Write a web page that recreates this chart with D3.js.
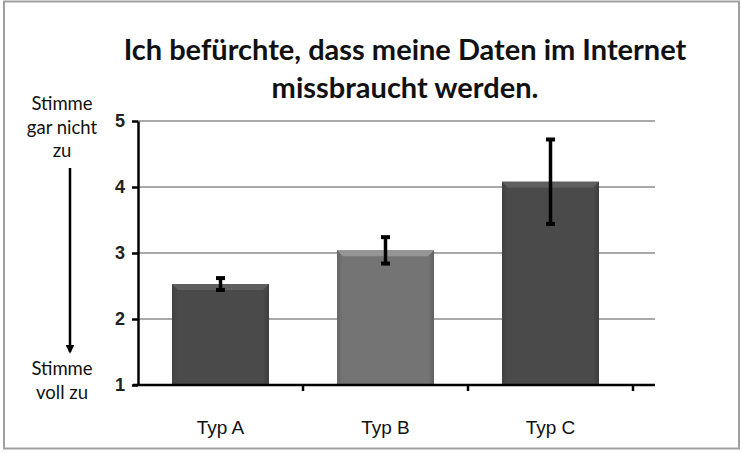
<!DOCTYPE html>
<html>
<head>
<meta charset="utf-8">
<script src="https://cdn.jsdelivr.net/npm/d3@7"></script>
<style>
  body { margin: 0; background: #fff; }
  svg { display: block; font-family: Lato, "Open Sans", sans-serif; }
</style>
</head>
<body>
<svg id="chart" width="743" height="453"></svg>
<script>
const categories = ["Typ A", "Typ B", "Typ C"];
const means = [2.53, 3.04, 4.08];
const errors = [0.09, 0.2, 0.64];
const barColors = ["#4a4a4a", "#747474", "#4a4a4a"];
const yTicks = [1, 2, 3, 4, 5];
const titleLines = ["Ich befürchte, dass meine Daten im Internet", "missbraucht werden."];
const topNote = ["Stimme", "gar nicht", "zu"];
const bottomNote = ["Stimme", "voll zu"];

const svg = d3.select("#chart");

// outer frame
svg.append("rect")
  .attr("x", 4).attr("y", 1.5)
  .attr("width", 735).attr("height", 447)
  .attr("fill", "none")
  .attr("stroke", "#a0a0a0")
  .attr("stroke-width", 2);

const plotLeft = 138, plotTop = 121, plotH = 264, catW = 165, axisEnd = 655;

const x = d3.scaleBand().domain(categories).range([plotLeft, plotLeft + catW * 3]).paddingInner(0).paddingOuter(0);
const y = d3.scaleLinear().domain([1, 5]).range([plotTop + plotH, plotTop]);

// gradients for bevelled bars
const defs = svg.append("defs");
barColors.forEach((c, i) => {
  const g = defs.append("linearGradient").attr("id", "bar" + i);
  const base = d3.color(c);
  g.append("stop").attr("offset", "0%").attr("stop-color", base.darker(0.35));
  g.append("stop").attr("offset", "6%").attr("stop-color", base);
  g.append("stop").attr("offset", "94%").attr("stop-color", base);
  g.append("stop").attr("offset", "100%").attr("stop-color", base.darker(0.5));
});

// gridlines
svg.append("g")
  .selectAll("line")
  .data(yTicks.slice(1))
  .join("line")
  .attr("x1", plotLeft).attr("x2", axisEnd)
  .attr("y1", d => y(d)).attr("y2", d => y(d))
  .attr("stroke", "#8c8c8c")
  .attr("stroke-width", 1.5);

// bars
const barW = 97;
const bars = svg.append("g")
  .selectAll("g")
  .data(categories)
  .join("g");

bars.append("rect")
  .attr("x", d => x(d) + (catW - barW) / 2)
  .attr("y", (d, i) => y(means[i]))
  .attr("width", barW)
  .attr("height", (d, i) => y(1) - y(means[i]))
  .attr("fill", (d, i) => `url(#bar${i})`);

// top bevel
bars.append("path")
  .attr("d", (d, i) => {
    const x0 = x(d) + (catW - barW) / 2, x1 = x0 + barW, y0 = y(means[i]), b = 6;
    return `M${x0},${y0}L${x1},${y0}L${x1 - b},${y0 + b}L${x0 + b},${y0 + b}Z`;
  })
  .attr("fill", (d, i) => d3.color(barColors[i]).brighter(0.7));

// error bars
const eb = svg.append("g");
categories.forEach((c, i) => {
  const cx = x(c) + catW / 2;
  const hi = y(means[i] + errors[i]), lo = y(means[i] - errors[i]);
  eb.append("line")
    .attr("x1", cx).attr("x2", cx).attr("y1", hi).attr("y2", lo)
    .attr("stroke", "#000").attr("stroke-width", 3.5);
  [hi, lo].forEach(v => {
    eb.append("line")
      .attr("x1", cx - 4.5).attr("x2", cx + 4.5).attr("y1", v).attr("y2", v)
      .attr("stroke", "#000").attr("stroke-width", 4);
  });
});

// y axis
const yAxis = svg.append("g")
  .attr("transform", `translate(${plotLeft},0)`)
  .call(d3.axisLeft(y).tickValues(yTicks).tickFormat(d3.format("d")).tickSize(6).tickSizeOuter(0));
yAxis.select(".domain").attr("stroke-width", 2.5);
yAxis.selectAll(".tick line").attr("stroke-width", 2.5);
yAxis.selectAll(".tick text")
  .attr("x", -13)
  .style("font-size", "18px")
  .style("font-weight", "bold")
  .attr("fill", "#222");

// x axis
const xAxis = svg.append("g")
  .attr("transform", `translate(0,${y(1)})`)
  .call(d3.axisBottom(x).tickSize(0).tickSizeOuter(0));
xAxis.select(".domain").remove();
xAxis.append("line")
  .attr("x1", plotLeft - 5).attr("x2", axisEnd)
  .attr("stroke", "#000").attr("stroke-width", 2.5);
xAxis.selectAll(".tick text")
  .attr("y", 36)
  .style("font-size", "19px")
  .attr("fill", "#111");
xAxis.selectAll(".bound")
  .data(d3.range(1, 4))
  .join("line")
  .attr("x1", d => plotLeft + d * catW).attr("x2", d => plotLeft + d * catW)
  .attr("y1", 0).attr("y2", 6)
  .attr("stroke", "#000").attr("stroke-width", 2.5);

// title
svg.append("text")
  .attr("text-anchor", "middle")
  .style("font-size", "29px")
  .style("font-weight", "bold")
  .attr("fill", "#111")
  .selectAll("tspan")
  .data(titleLines)
  .join("tspan")
  .attr("x", 405)
  .attr("y", (d, i) => 60 + i * 38)
  .text(d => d);

// left annotation
const note = svg.append("g")
  .attr("text-anchor", "middle")
  .style("font-size", "18.5px")
  .attr("fill", "#111");
note.selectAll(".top")
  .data(topNote)
  .join("text")
  .attr("x", 62)
  .attr("y", (d, i) => 110 + i * 23.5)
  .text(d => d);
note.selectAll(".bottom")
  .data(bottomNote)
  .join("text")
  .attr("x", 62)
  .attr("y", (d, i) => 375 + i * 23.5)
  .text(d => d);

defs.append("marker")
  .attr("id", "arrow")
  .attr("viewBox", "0 0 10 10")
  .attr("refX", 8).attr("refY", 5)
  .attr("markerWidth", 3.5).attr("markerHeight", 3.5)
  .attr("orient", "auto")
  .append("path").attr("d", "M0,0L10,5L0,10Z").attr("fill", "#000");

svg.append("line")
  .attr("x1", 70).attr("x2", 70)
  .attr("y1", 168).attr("y2", 352)
  .attr("stroke", "#000").attr("stroke-width", 2.5)
  .attr("marker-end", "url(#arrow)");
</script>
</body>
</html>
